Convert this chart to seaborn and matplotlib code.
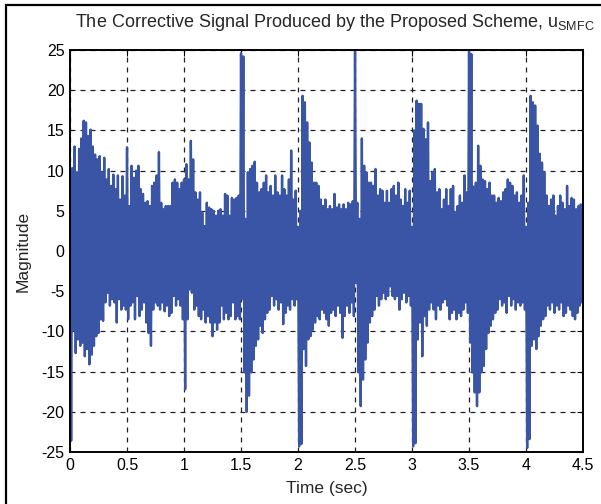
import numpy as np
import pandas as pd
import matplotlib
matplotlib.use("Agg")
import matplotlib.pyplot as plt
import seaborn as sns
from matplotlib.patches import Rectangle

sns.set_style("white")
plt.rcParams['font.family'] = ['Liberation Sans', 'DejaVu Sans']

# sample step of the read-off envelope (sec)
step = 0.02

# upper extremes of the signal, read every 0.02 s (chunks of 0.5 s)
upper_0 = [10.5, 10.3, 13.0, 9.8, 12.7, 14.0, 16.2, 16.0, 14.3, 15.1, 13.0, 12.0, 11.4, 11.8, 9.8, 11.6, 8.9, 10.2, 8.1, 9.5, 7.7, 9.4, 6.4, 9.3, 6.9]
upper_1 = [12.9, 5.6, 10.6, 9.1, 10.0, 10.6, 7.7, 7.1, 6.0, 6.2, 5.6, 8.1, 8.5, 9.4, 12.3, 6.0, 5.2, 5.6, 5.6, 5.6, 8.5, 8.9, 8.5, 7.7, 8.5]
upper_2 = [8.9, 10.8, 8.9, 13.7, 11.4, 7.3, 6.4, 7.3, 4.8, 3.1, 6.0, 5.4, 5.2, 5.0, 4.4, 5.0, 5.2, 4.4, 7.1, 6.9, 4.4, 6.6, 6.4, 6.6, 6.9]
upper_3 = [24.6, 24.2, 4.0, 9.8, 10.2, 10.6, 11.1, 8.5, 7.3, 7.7, 8.5, 9.4, 7.3, 8.1, 6.9, 9.4, 7.3, 6.9, 9.4, 7.7, 6.9, 8.9, 12.5, 6.4, 7.5]
upper_4 = [3.0, 5.0, 19.3, 18.5, 16.0, 13.5, 11.0, 8.5, 8.5, 8.1, 6.4, 5.6, 6.4, 5.2, 5.6, 5.2, 7.1, 5.4, 5.8, 5.2, 5.8, 5.2, 6.0, 5.8, 6.2]
upper_5 = [24.8, 6.0, 4.0, 14.0, 10.6, 9.8, 8.5, 8.5, 8.1, 10.2, 6.9, 7.7, 7.5, 6.0, 7.5, 6.0, 7.7, 8.1, 6.9, 8.5, 6.4, 5.6, 7.7, 6.0, 7.5]
upper_6 = [3.0, 15.0, 18.7, 18.3, 18.3, 15.2, 13.9, 16.0, 8.7, 9.8, 10.2, 7.3, 7.7, 5.2, 6.4, 7.7, 5.6, 7.7, 8.1, 4.8, 5.6, 6.9, 6.0, 9.4, 7.3]
upper_7 = [24.8, 24.5, 8.0, 8.5, 13.1, 10.6, 8.9, 8.7, 7.7, 8.5, 6.9, 6.9, 6.0, 6.6, 6.2, 7.3, 7.7, 8.9, 8.5, 8.1, 6.9, 7.3, 6.0, 6.9, 9.4]
upper_8 = [3.0, 6.0, 19.3, 18.5, 18.1, 15.6, 12.1, 11.0, 9.8, 6.9, 5.6, 6.4, 6.9, 4.4, 5.6, 6.9, 6.0, 5.2, 8.1, 5.6, 6.6, 6.4, 5.2, 5.6, 5.8, 5.2]

# lower extremes of the signal, read every 0.02 s
lower_0 = [-23.6, -9.8, -12.7, -11.0, -11.8, -11.4, -13.1, -12.2, -14.1, -12.9, -11.8, -10.6, -10.2, -8.5, -8.7, -6.4, -5.2, -6.8, -6.0, -6.4, -8.9, -6.0, -7.3, -6.8, -7.3]
lower_1 = [-8.5, -6.8, -6.4, -8.5, -5.6, -8.1, -7.3, -6.4, -8.9, -10.2, -11.8, -7.3, -6.4, -6.8, -7.3, -6.4, -7.5, -6.8, -8.1, -7.7, -5.6, -6.8, -6.0, -6.8, -8.5]
lower_2 = [-17.2, -8.5, -4.8, -5.2, -7.3, -6.8, -8.1, -8.5, -7.3, -8.9, -8.1, -8.9, -10.6, -8.9, -9.8, -8.9, -6.8, -8.5, -7.7, -8.5, -8.1, -6.4, -8.5, -8.1, -8.5]
lower_3 = [-6.0, -15.1, -20.0, -18.0, -15.1, -13.5, -11.8, -11.0, -9.3, -10.2, -8.5, -7.7, -7.3, -5.6, -6.8, -6.0, -7.3, -6.4, -9.1, -7.7, -6.8, -7.3, -6.0, -6.8, -6.0]
lower_4 = [-24.3, -24.0, -12.2, -14.3, -11.0, -10.6, -9.8, -8.9, -8.1, -8.5, -7.3, -7.7, -8.5, -9.3, -7.7, -7.3, -8.1, -6.8, -7.7, -10.8, -8.1, -6.8, -7.7, -6.4, -8.1]
lower_5 = [-4.0, -15.1, -19.3, -16.0, -13.5, -11.4, -8.9, -8.1, -7.3, -5.6, -6.8, -6.0, -5.2, -6.0, -5.6, -4.4, -5.6, -6.0, -5.6, -7.3, -6.0, -5.2, -6.4, -5.6, -6.8]
lower_6 = [-24.3, -23.9, -11.0, -8.9, -13.1, -8.1, -9.3, -7.3, -6.4, -7.3, -8.5, -6.8, -7.3, -6.4, -6.0, -6.8, -8.5, -7.7, -7.3, -8.5, -7.7, -8.1, -7.3, -6.4, -7.7]
lower_7 = [-11.4, -15.1, -17.6, -19.3, -17.6, -15.1, -14.3, -12.2, -10.2, -9.3, -8.5, -7.7, -7.3, -6.0, -6.8, -6.4, -7.7, -5.6, -6.8, -6.0, -7.3, -6.4, -6.8, -6.4, -7.3]
lower_8 = [-24.5, -23.4, -11.8, -11.0, -12.2, -10.6, -9.3, -8.5, -8.1, -6.8, -7.3, -6.4, -7.7, -6.8, -7.3, -6.4, -8.1, -7.7, -6.8, -7.3, -8.1, -8.5, -7.7, -6.8, -6.4, -6.4]

x_ticks = [0, 0.5, 1, 1.5, 2, 2.5, 3, 3.5, 4, 4.5]
x_ticklabels = ["0", "0.5", "1", "1.5", "2", "2.5", "3", "3.5", "4", "4.5"]
y_ticks = [-25, -20, -15, -10, -5, 0, 5, 10, 15, 20, 25]
y_ticklabels = ["-25", "-20", "-15", "-10", "-5", "0", "5", "10", "15", "20", "25"]

upper = (upper_0 + upper_1 + upper_2 + upper_3 + upper_4 + upper_5
         + upper_6 + upper_7 + upper_8)
lower = (lower_0 + lower_1 + lower_2 + lower_3 + lower_4 + lower_5
         + lower_6 + lower_7 + lower_8)
t_env = np.arange(len(upper)) * step

# signal drawn as its successive upper / lower extremes
xs, ys = [], []
for t, u, l in zip(t_env, upper, lower):
    xs += [t, t + step / 2]
    ys += [u, l]
df = pd.DataFrame({"Time (sec)": xs, "Magnitude": ys})

fig = plt.figure(figsize=(6.01, 5.04), dpi=100)
ax = fig.add_axes([0.1165, 0.1032, 0.8536, 0.7976])

sns.lineplot(data=df, x="Time (sec)", y="Magnitude", sort=False, estimator=None,
             color="#3A55A5", lw=1.7, ax=ax)

ax.set_xlim(0, 4.5)
ax.set_ylim(-25, 25)
ax.set_xticks(x_ticks)
ax.set_xticklabels(x_ticklabels)
ax.set_yticks(y_ticks)
ax.set_yticklabels(y_ticklabels)
ax.grid(True, color="#222222", ls=(0, (4, 4)), lw=0.9)
ax.tick_params(direction="in", top=True, right=True, length=4, width=0.8,
               labelsize=11.5, colors="black", pad=4)
for s in ax.spines.values():
    s.set_visible(True)
    s.set_color("black")
    s.set_linewidth(1.4)

ax.set_xlabel("Time (sec)", fontsize=12.5, labelpad=6)
ax.set_ylabel("Magnitude", fontsize=12.5, labelpad=8)
fig.text(0.557, 0.955, "The Corrective Signal Produced by the Proposed Scheme, u$_{\\mathregular{SMFC}}$",
         ha="center", va="center", fontsize=13)

fig.patches.append(Rectangle((0.010, -0.02), 1.1, 1.01, transform=fig.transFigure,
                             fill=False, ec="black", lw=1.6))

fig.savefig("out.png", dpi=100)
